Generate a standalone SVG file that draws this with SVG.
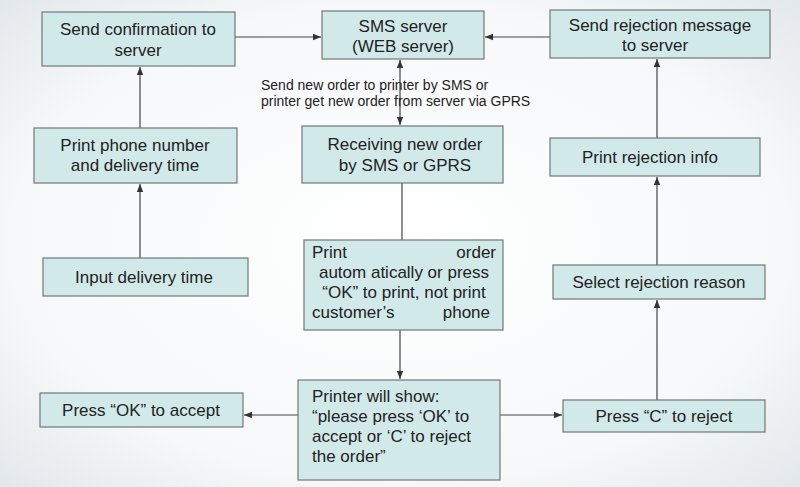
<svg xmlns="http://www.w3.org/2000/svg" width="800" height="487" viewBox="0 0 800 487">
<defs>
<radialGradient id="bg" cx="50%" cy="50%" r="70%"><stop offset="0" stop-color="#ffffff"/><stop offset="0.7" stop-color="#f6f8f9"/><stop offset="1" stop-color="#e3e8ec"/></radialGradient>
<marker id="ah" viewBox="0 0 10 10" refX="10" refY="5" markerWidth="7" markerHeight="7" orient="auto-start-reverse"><path d="M0,1 L10,5 L0,9 z" fill="#333"/></marker>
<style>
.b{fill:#d2e9e9;stroke:#707878;stroke-width:1.2}
.t{font-family:"Liberation Sans",Arial,sans-serif;font-size:17px;fill:#222;text-anchor:middle}
.s{font-family:"Liberation Sans",Arial,sans-serif;font-size:14px;fill:#222}
.c{stroke:#444;stroke-width:1.2;fill:none}
</style>
</defs>
<rect width="800" height="487" fill="url(#bg)"/>
<g id="connectors">
<line class="c" x1="235" y1="37" x2="321" y2="37" marker-end="url(#ah)"/>
<line class="c" x1="550" y1="37" x2="485" y2="37" marker-end="url(#ah)"/>
<line class="c" x1="140" y1="128" x2="140" y2="67" marker-end="url(#ah)"/>
<line class="c" x1="140" y1="258" x2="140" y2="184" marker-end="url(#ah)"/>
<line class="c" x1="400" y1="60" x2="400" y2="125" marker-start="url(#ah)" marker-end="url(#ah)"/>
<line class="c" x1="402" y1="183" x2="402" y2="240"/>
<line class="c" x1="400" y1="330" x2="400" y2="379" marker-end="url(#ah)"/>
<line class="c" x1="298" y1="415" x2="244" y2="415" marker-end="url(#ah)"/>
<line class="c" x1="500" y1="415" x2="562" y2="415" marker-end="url(#ah)"/>
<line class="c" x1="657" y1="400" x2="657" y2="300" marker-end="url(#ah)"/>
<line class="c" x1="657" y1="265" x2="657" y2="177" marker-end="url(#ah)"/>
<line class="c" x1="657" y1="138" x2="657" y2="59" marker-end="url(#ah)"/>
<text class="s" x="261" y="90">Send new order to printer by SMS or</text>
<text class="s" x="261" y="106">printer get new order from server via GPRS</text>
</g>
<g id="n1"><rect class="b" x="42" y="12" width="193" height="54"/><text class="t" x="138" y="35">Send confirmation to</text><text class="t" x="138" y="56">server</text></g>
<g id="n2"><rect class="b" x="322" y="11" width="162" height="48"/><text class="t" x="403" y="32">SMS server</text><text class="t" x="403" y="52">(WEB server)</text></g>
<g id="n3"><rect class="b" x="550" y="10" width="220" height="48"/><text class="t" x="660" y="31">Send rejection message</text><text class="t" x="655" y="51">to server</text></g>
<g id="n4"><rect class="b" x="34" y="128" width="203" height="55"/><text class="t" x="135" y="151">Print phone number</text><text class="t" x="135" y="171">and delivery time</text></g>
<g id="n5"><rect class="b" x="302" y="126" width="201" height="57"/><text class="t" x="405" y="150">Receiving new order</text><text class="t" x="405" y="171">by SMS or GPRS</text></g>
<g id="n6"><rect class="b" x="550" y="138" width="210" height="38"/><text class="t" x="650" y="163">Print rejection info</text></g>
<g id="n7"><rect class="b" x="43" y="258" width="205" height="38"/><text class="t" x="144" y="283">Input delivery time</text></g>
<g id="n8"><rect class="b" x="304" y="240" width="199" height="90"/>
<text class="t" x="312" y="258" style="text-anchor:start">Print</text><text class="t" x="496" y="258" style="text-anchor:end">order</text>
<text class="t" x="404" y="278">autom atically or press</text>
<text class="t" x="404" y="298">“OK” to print, not print</text>
<text class="t" x="312" y="318" style="text-anchor:start">customer’s</text><text class="t" x="490" y="318" style="text-anchor:end">phone</text></g>
<g id="n9"><rect class="b" x="553" y="265" width="212" height="34"/><text class="t" x="659" y="288">Select rejection reason</text></g>
<g id="n10"><rect class="b" x="40" y="393" width="203" height="34"/><text class="t" x="141" y="416">Press “OK” to accept</text></g>
<g id="n11"><rect class="b" x="298" y="380" width="202" height="100"/>
<text class="t" x="312" y="402" style="text-anchor:start">Printer will show:</text>
<text class="t" x="312" y="422" style="text-anchor:start">“please press ‘OK’ to</text>
<text class="t" x="312" y="442" style="text-anchor:start">accept or ‘C’ to reject</text>
<text class="t" x="312" y="462" style="text-anchor:start">the order”</text></g>
<g id="n12"><rect class="b" x="563" y="400" width="202" height="32"/><text class="t" x="664" y="422">Press “C” to reject</text></g>
</svg>
